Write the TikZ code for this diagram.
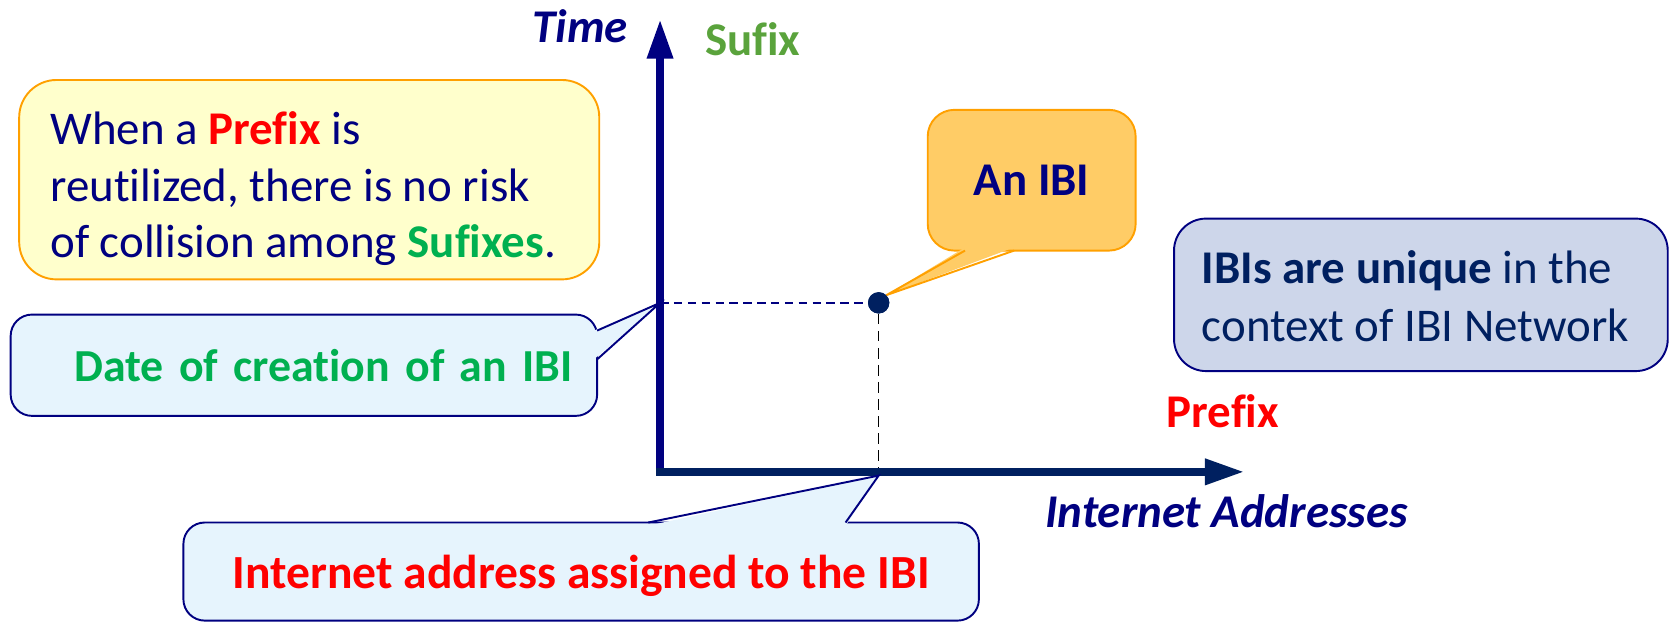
\documentclass[tikz,border=0pt]{standalone}
\usepackage{fontspec}
\setmainfont{Carlito}[Ligatures=NoCommon]
\usetikzlibrary{arrows.meta}
\definecolor{navyA}{HTML}{000080}
\definecolor{navyB}{HTML}{002060}
\definecolor{grnA}{HTML}{00B050}
\definecolor{grnB}{HTML}{5AA33C}
\definecolor{redA}{HTML}{FF0000}
\definecolor{orgA}{HTML}{FFA000}
\definecolor{ylwF}{HTML}{FFFFCC}
\definecolor{orgF}{HTML}{FFCC66}
\definecolor{bluF}{HTML}{E6F4FD}
\definecolor{gryF}{HTML}{CDD6EA}
\begin{document}
\begin{tikzpicture}[x=1pt,y=-1pt,
  bigfont/.style={font=\fontsize{44}{53}\selectfont},
  boxbase/.style={line width=1.8pt, inner sep=0pt, bigfont},
  ybox/.style={boxbase, draw=orgA, fill=ylwF, rounded corners=35pt, text=navyA},
  obox/.style={boxbase, draw=orgA, fill=orgF, rounded corners=25pt, text=navyA, font=\fontsize{44}{53}\selectfont\bfseries},
  bbox/.style={boxbase, draw=navyA, fill=bluF, rounded corners=20pt},
  gbox/.style={boxbase, draw=navyA, fill=gryF, rounded corners=30pt},
  lbl/.style={inner sep=0pt, anchor=base west},
  axis/.style={line width=7.5pt, -{Triangle[length=37pt,width=23pt]}},
  ptrline/.style={line width=1.8pt},
  dashh/.style={navyA, line width=1.6pt, dash pattern=on 8pt off 5pt},
  dashv/.style={black, line width=1.3pt, dash pattern=on 10pt off 6pt}
]
\useasboundingbox (0,0) rectangle (1568,584);

% reference points on the axes
\coordinate (ty) at (619,284);
\coordinate (tx) at (824,446);
\coordinate (corner) at (619,446);
\coordinate (ytip) at (619,18);
\coordinate (xstart) at (615,442.5);
\coordinate (xtip) at (1167,442.5);

% the IBI point
\node[circle, fill=navyB, minimum size=20pt, inner sep=0pt] (ibi) at (824,284) {};

% dashed guide lines
\draw[dashh] (ty) -- (ibi.west);
\draw[dashv] (ibi.south) -- (tx);

% axes
\draw[axis, navyA] (corner) -- (ytip);
\draw[axis, navyB] (xstart) -- (xtip);

% axis labels
\node[lbl, text=navyA, font=\fontsize{44}{53}\selectfont\bfseries\itshape] (time) at (499,40) {Time};
\node[lbl, text=grnB, font=\fontsize{44}{53}\selectfont\bfseries] (sufix) at (661,52) {Sufix};
\node[lbl, text=redA, font=\fontsize{44}{53}\selectfont\bfseries] (prefix) at (1094,401) {Prefix};
\node[lbl, text=navyA, font=\fontsize{44}{53}\selectfont\bfseries\itshape] (inet) at (980,495) {Internet Addresses};

% yellow note
\node[ybox, minimum width=544pt, minimum height=187pt] (note) at (290,168.5) {};
\node[bigfont, text=navyA, inner sep=0pt, align=left, anchor=west] (notetext) at (47,177)
  {When a \textbf{\color{redA}Prefix} is\\reutilized, there is no risk\\of collision among \textbf{\color{grnA}Sufixes}.};

% date callout
\node[bbox, minimum width=550pt, minimum height=95pt, text width=504pt, align=right, text=grnA, font=\fontsize{43}{53}\selectfont\bfseries] (date) at (285,342.5) {Date of creation of an IBI};
\fill[bluF] (557,310) -- (ty) -- (557,337) -- cycle;
\draw[ptrline, navyA] (560,310) -- (ty) -- (560,337);

% An IBI callout
\node[obox, minimum width=195pt, minimum height=132pt] (anibi) at (967.5,169) {An IBI};
\fill[orgF] (905,232) -- (ibi.north east) -- (951,232) -- cycle;
\draw[ptrline, orgA] (905,235) -- (ibi.north east) -- (951,235);

% uniqueness note
\node[gbox, minimum width=463pt, minimum height=143pt] (uniq) at (1332.5,276.5) {};
\node[inner sep=0pt, text=navyB, font=\fontsize{44}{54}\selectfont, align=left, anchor=west] (uniqtext) at (1127,278)
  {\textbf{IBIs are unique} in the\\context of IBI Network};

% address callout
\node[bbox, minimum width=746pt, minimum height=92pt, text=redA, text depth=0pt, font=\fontsize{44.6}{53}\selectfont\bfseries] (addr) at (545,536) {Internet address assigned to the IBI};
\fill[bluF] (608,493) -- (tx) -- (793,493) -- cycle;
\draw[ptrline, navyA] (608,490) -- (tx) -- (793,490);

% redraw the point on top
\node[circle, fill=navyB, minimum size=20pt, inner sep=0pt] at (ibi) {};
\end{tikzpicture}
\end{document}
